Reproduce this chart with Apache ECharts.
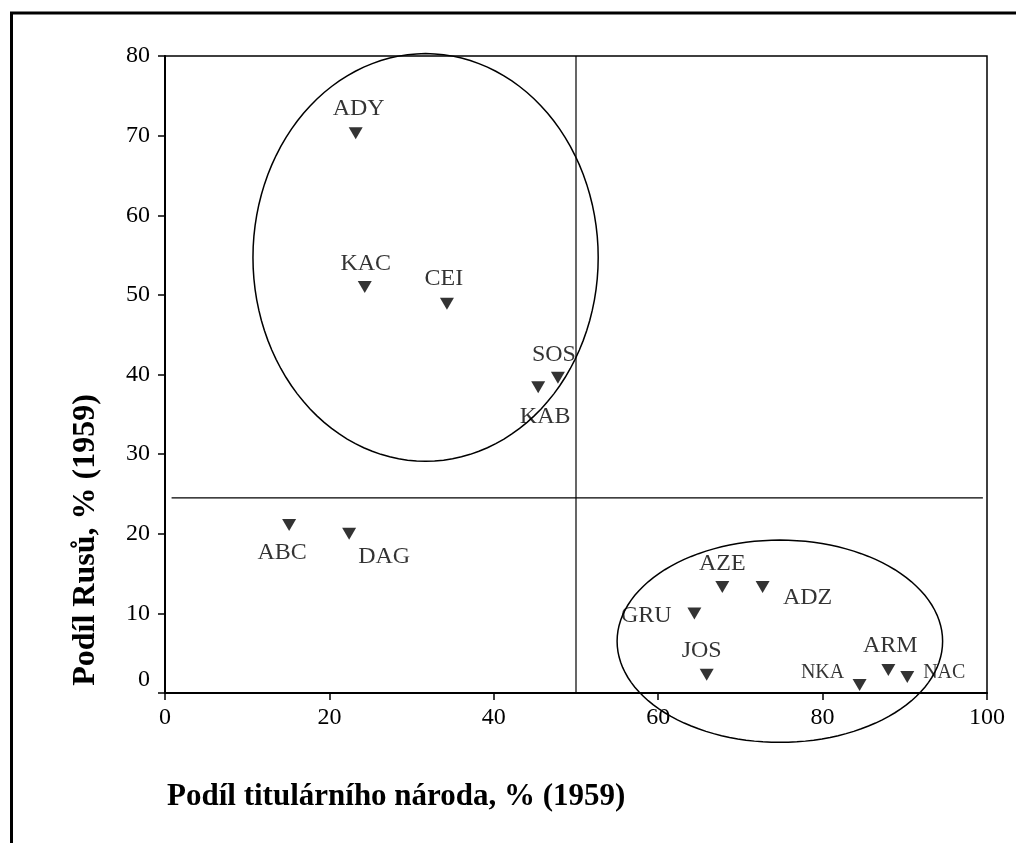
<!DOCTYPE html>
<html>
<head>
<meta charset="utf-8">
<script src="https://cdn.jsdelivr.net/npm/echarts@6/dist/echarts.min.js"></script>
<style>
html,body{margin:0;padding:0;background:#fff;}
#chart{width:1016px;height:843px;}
</style>
</head>
<body>
<div id="chart"></div>
<script>
// ---- data ----
const names = ['ADY','KAC','CEI','SOS','KAB','ABC','DAG','AZE','ADZ','GRU','JOS','NKA','ARM','NAC'];
const titularShare = [23.2, 24.3, 34.3, 47.8, 45.4, 15.1, 22.4, 67.8, 72.7, 64.4, 65.9, 84.5, 88.0, 90.3];
const russianShare = [70.3, 51.0, 48.9, 39.6, 38.4, 21.1, 20.0, 13.3, 13.3, 10.0, 2.3, 1.0, 2.9, 2.0];
const xTicks = [0, 20, 40, 60, 80, 100];
const yTicks = [0, 10, 20, 30, 40, 50, 60, 70, 80];
// divider lines (data units)
const hLine = [[0.8, 24.5], [99.5, 24.5]];
const vLine = [[50, 0], [50, 80]];
// ellipses: [centre x, centre y, radius x, radius y] in data units
const ellipses = [[31.7, 54.7, 21.0, 25.6], [74.8, 6.5, 19.8, 12.7]];
const xTitle = 'Podíl titulárního národa, % (1959)';
const yTitle = 'Podíl Rusů, % (1959)';

// ---- label styling (not data) ----
const labelOffsets = {
  ADY:[3,-25], KAC:[1,-23], CEI:[-3,-25], SOS:[-4,-23], KAB:[7,29], ABC:[-7,28],
  DAG:[35,23], AZE:[0,-23], ADZ:[45,11], GRU:[-48,2], JOS:[-5,-24], NKA:[-37,-12],
  ARM:[2,-24], NAC:[37,-4]
};
const smallLabels = {NKA:true, NAC:true};
const serif = 'Liberation Serif, Times New Roman, serif';

const chart = echarts.init(document.getElementById('chart'), null, {renderer:'canvas'});

const pts = names.map((n, i) => ({
  name: n,
  value: [titularShare[i], russianShare[i]],
  label: {
    offset: labelOffsets[n],
    fontSize: smallLabels[n] ? 20 : 24
  }
}));

const option = {
  backgroundColor: '#fff',
  animation: false,
  grid: {left: 165, top: 56, right: 29, bottom: 150, show: true, borderColor: '#000', borderWidth: 1.5, backgroundColor: 'transparent'},
  xAxis: {
    type: 'value', min: xTicks[0], max: xTicks[xTicks.length-1], interval: 20,
    splitLine: {show: false},
    axisLine: {lineStyle: {color: '#000', width: 2}},
    axisTick: {show: true, length: 7, lineStyle: {color: '#000', width: 1.5}},
    axisLabel: {color: '#000', fontFamily: serif, fontSize: 24, margin: 13}
  },
  yAxis: {
    type: 'value', min: yTicks[0], max: yTicks[yTicks.length-1], interval: 10,
    splitLine: {show: false},
    axisLine: {lineStyle: {color: '#000', width: 2}},
    axisTick: {show: true, length: 7, lineStyle: {color: '#000', width: 1.5}},
    axisLabel: {
      color: '#000', fontFamily: serif, fontSize: 24, margin: 15,
      formatter: v => v === 0 ? '{z|0}' : String(v),
      rich: {z: {fontFamily: serif, fontSize: 24, color: '#000', padding: [0, 0, 26, 0]}}
    }
  },
  graphic: [
    {type: 'rect', shape: {x: 11.5, y: 13, width: 1040, height: 880}, style: {fill: 'none', stroke: '#000', lineWidth: 3}, silent: true},
    {type: 'text', x: 167, y: 797, style: {text: xTitle, fill: '#000', font: 'bold 31px ' + serif, textAlign: 'left', textVerticalAlign: 'middle'}},
    {type: 'text', x: 86, y: 540, rotation: Math.PI/2, style: {text: yTitle, fill: '#000', font: 'bold 32px ' + serif, textAlign: 'center', textVerticalAlign: 'middle'}}
  ],
  series: [
    {
      type: 'line', data: hLine, symbol: 'none', silent: true,
      lineStyle: {color: '#000', width: 1.2}, z: 1
    },
    {
      type: 'line', data: vLine, symbol: 'none', silent: true,
      lineStyle: {color: '#000', width: 1.2}, z: 1
    },
    {
      type: 'custom', clip: false, silent: true, z: 2,
      data: ellipses,
      encode: {x: 0, y: 1},
      renderItem: function (params, api) {
        const c = api.coord([api.value(0), api.value(1)]);
        const s = api.size([api.value(2), api.value(3)]);
        const rx = s[0], ry = s[1];
        const points = [];
        const N = 120;
        for (let k = 0; k < N; k++) {
          const a = 2 * Math.PI * k / N;
          points.push([c[0] + rx * Math.cos(a), c[1] + ry * Math.sin(a)]);
        }
        return {type: 'polygon', shape: {points: points}, style: {fill: 'none', stroke: '#000', lineWidth: 1.5}};
      }
    },
    {
      type: 'scatter', z: 5,
      symbol: 'path://M0,0L14,0L7,12Z', symbolSize: [14, 12],
      itemStyle: {color: '#000'},
      label: {show: true, position: 'inside', formatter: '{b}', color: '#000', fontFamily: serif, fontSize: 24, align: 'center', verticalAlign: 'middle'},
      data: pts
    }
  ]
};
chart.setOption(option);
</script>
</body>
</html>
